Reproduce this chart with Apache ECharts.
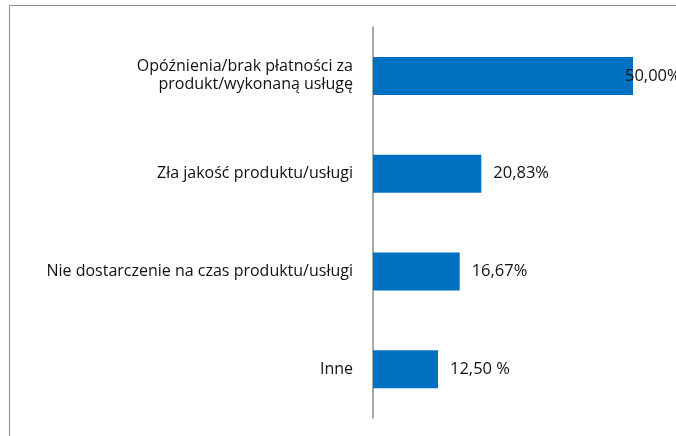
<!DOCTYPE html>
<html>
<head>
<meta charset="utf-8">
<script src="https://cdn.jsdelivr.net/npm/echarts@6/dist/echarts.min.js"></script>
<style>
  html, body { margin: 0; padding: 0; background: #fff; }
  #chart { width: 676px; height: 436px; }
</style>
</head>
<body>
<div id="chart"></div>
<script>
const categories = [
  "Opóźnienia/brak płatności za\nprodukt/wykonaną usługę",
  "Zła jakość produktu/usługi",
  "Nie dostarczenie na czas produktu/usługi",
  "Inne",
];
const values = [50.0, 20.83, 16.67, 12.5];
const valueLabels = ["50,00%", "20,83%", "16,67%", "12,50 %"];

const FONT = "'Open Sans', sans-serif";

const chart = echarts.init(document.getElementById("chart"), null, { renderer: "canvas" });
chart.setOption({
  animation: false,
  grid: { left: 373, top: 27, bottom: 18, right: 43 },
  xAxis: {
    type: "value",
    min: 0,
    max: 50,
    show: false,
  },
  yAxis: {
    type: "category",
    data: categories,
    inverse: true,
    axisTick: { show: false },
    axisLine: { lineStyle: { color: "#8c8c8c", width: 1.5 } },
    axisLabel: {
      margin: 20,
      color: "#111",
      fontFamily: FONT,
      fontSize: 16,
      lineHeight: 18,
      align: "right",
    },
  },
  series: [
    {
      type: "bar",
      barWidth: 38,
      itemStyle: { color: "#0070c0" },
      data: values.map((v, i) => ({
        value: v,
        label: i === 0 ? { offset: [-20, 0] } : {},
      })),
      label: {
        show: true,
        position: "right",
        distance: 12,
        color: "#111",
        fontFamily: FONT,
        fontSize: 16.5,
        formatter: (p) => valueLabels[p.dataIndex],
      },
    },
  ],
  graphic: [
    {
      type: "rect",
      shape: { x: 9.5, y: 5.5, width: 700, height: 500 },
      style: { fill: "none", stroke: "#8c8c8c", lineWidth: 1 },
      silent: true,
    },
  ],
});
</script>
</body>
</html>
